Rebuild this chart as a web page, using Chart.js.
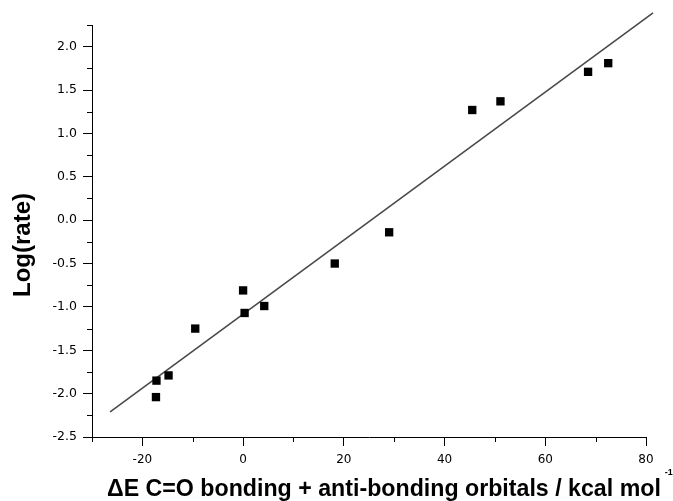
<!DOCTYPE html>
<html><head><meta charset="utf-8">
<script src="https://cdn.jsdelivr.net/npm/chart.js@4/dist/chart.umd.min.js"></script>
<style>html,body{margin:0;padding:0;background:#fff;overflow:hidden;}</style>
</head><body>
<canvas id="c" width="673" height="501"></canvas>
<script>
const energyX = [-17.3, -17.2, -14.8, -9.5, 0.0, 0.3, 4.2, 18.2, 29.0, 45.5, 51.1, 68.5, 72.5];
const logRate = [-2.04, -1.85, -1.79, -1.25, -0.81, -1.07, -0.99, -0.50, -0.14, 1.27, 1.37, 1.71, 1.81];
const fitX = [-26.4, 81.4];
const fitY = [-2.21, 2.39];
const xMajorTicks = [-20, 0, 20, 40, 60, 80];
const xMinorTicks = [-30, -10, 10, 30, 50, 70];
const yMajorTicks = [-2.5, -2.0, -1.5, -1.0, -0.5, 0.0, 0.5, 1.0, 1.5, 2.0];
const yMinorTicks = [-2.25, -1.75, -1.25, -0.75, -0.25, 0.25, 0.75, 1.25, 1.75, 2.25];
const xTitle = 'ΔE C=O bonding + anti-bonding orbitals / kcal mol';
const xTitleSup = '-1';
const yTitle = 'Log(rate)';

const decor = {
  id: 'decor',
  afterDraw(chart) {
    const { ctx, scales: { x, y }, chartArea: ca } = chart;
    ctx.save();
    ctx.strokeStyle = '#000';
    ctx.lineWidth = 1;
    ctx.beginPath();
    xMinorTicks.forEach(v => {
      const px = Math.round(x.getPixelForValue(v)) + 0.5;
      ctx.moveTo(px, ca.bottom);
      ctx.lineTo(px, ca.bottom + 5);
    });
    yMinorTicks.forEach(v => {
      const py = Math.round(y.getPixelForValue(v)) + 0.5;
      ctx.moveTo(ca.left, py);
      ctx.lineTo(ca.left - 5, py);
    });
    ctx.stroke();
    ctx.fillStyle = '#000';
    ctx.textBaseline = 'alphabetic';
    ctx.textAlign = 'left';
    ctx.font = 'bold 23.2px "Liberation Sans", Arial, sans-serif';
    const tx = ca.left + 15, ty = 496;
    ctx.fillText(xTitle, tx, ty);
    const w = ctx.measureText(xTitle).width;
    ctx.font = 'bold 9px "Liberation Sans", Arial, sans-serif';
    ctx.fillText(xTitleSup, tx + w + 4, ty - 21);
    ctx.translate(30, 245);
    ctx.rotate(-Math.PI / 2);
    ctx.textAlign = 'center';
    ctx.font = 'bold 24px "Liberation Sans", Arial, sans-serif';
    ctx.fillText(yTitle, 0, 0);
    ctx.restore();
  }
};

new Chart(document.getElementById('c'), {
  type: 'scatter',
  data: {
    datasets: [
      {
        type: 'scatter',
        data: energyX.map((v, i) => ({ x: v, y: logRate[i] })),
        pointStyle: 'rect',
        pointRadius: 5.9,
        pointHoverRadius: 5.9,
        backgroundColor: '#000',
        borderColor: '#000',
        borderWidth: 0,
        order: 1
      },
      {
        type: 'line',
        data: fitX.map((v, i) => ({ x: v, y: fitY[i] })),
        borderColor: '#4a4a4a',
        borderWidth: 1.6,
        pointRadius: 0,
        fill: false,
        clip: false,
        order: 2
      }
    ]
  },
  options: {
    responsive: false,
    animation: false,
    layout: { padding: { left: 0, right: 27, top: 25, bottom: 0 } },
    plugins: { legend: { display: false }, tooltip: { enabled: false } },
    scales: {
      x: {
        type: 'linear', min: -30, max: 80,
        afterBuildTicks: s => { s.ticks = xMajorTicks.map(v => ({ value: v })); },
        afterFit: s => { s.height = 64; },
        grid: { drawOnChartArea: false, drawTicks: true, tickLength: 9, color: '#000', tickColor: '#000', lineWidth: 1 },
        border: { display: true, color: '#000', width: 1 },
        ticks: { font: { family: 'DejaVu Sans', size: 12 }, color: '#000', padding: 7, maxRotation: 0, callback: v => String(v) }
      },
      y: {
        type: 'linear', min: -2.5, max: 2.25,
        afterBuildTicks: s => { s.ticks = yMajorTicks.map(v => ({ value: v })); },
        afterFit: s => { s.width = 92; },
        grid: { drawOnChartArea: false, drawTicks: true, tickLength: 9, color: '#000', tickColor: '#000', lineWidth: 1 },
        border: { display: true, color: '#000', width: 1 },
        ticks: { font: { family: 'DejaVu Sans', size: 12.5 }, color: '#000', padding: 6, callback: v => Number(v).toFixed(1) }
      }
    }
  },
  plugins: [decor]
});
</script>
</body></html>
